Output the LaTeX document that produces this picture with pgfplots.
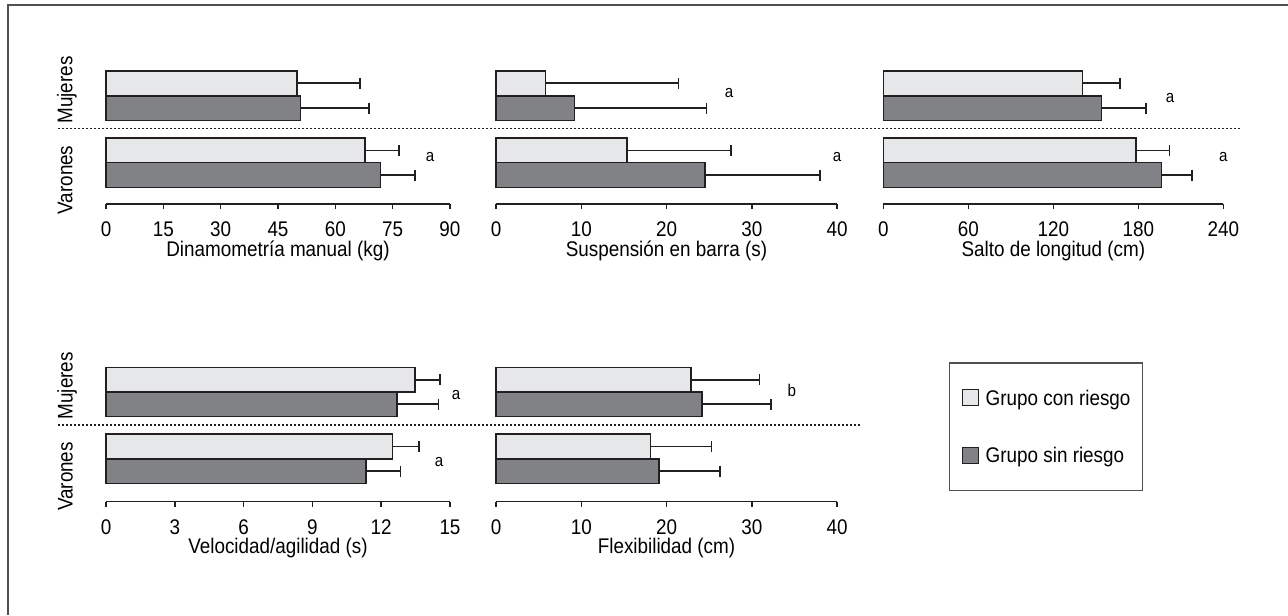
\documentclass[border=0pt]{standalone}
\usepackage{fontspec}
\setmainfont{Liberation Sans}[FakeStretch=0.89]
\usepackage{pgfplots}
\pgfplotsset{compat=1.18}
\definecolor{lightbar}{HTML}{E6E7E8}
\definecolor{darkbar}{HTML}{808285}
\definecolor{edge}{HTML}{231F20}
\definecolor{framec}{HTML}{505050}
\newcommand\lab{\fontsize{10.6pt}{12pt}\selectfont}

\tikzset{
 sig/.style={font=\fontsize{8.5pt}{10pt}\selectfont, anchor=center},
 grp/.style={rotate=90, anchor=base, font=\lab},
 light/.style={fill=lightbar, draw=edge, line width=0.8pt},
 dark/.style={fill=darkbar, draw=edge, line width=0.8pt},
}
\pgfplotsset{
 panel/.style={
   scale only axis, xbar, bar shift=0pt,
   axis y line=none, axis x line*=bottom,
   xmin=0, ymin=0, clip=false,
   anchor=south west,
   xtick align=outside, major tick length=2.5pt,
   tick style={edge, line width=0.75pt},
   axis line style={edge, line width=0.75pt},
   /pgf/number format/assume math mode=true,
   xticklabel style={font=\lab, yshift=-3pt},
   xlabel style={font=\lab, at={(axis description cs:0.5,0)}, anchor=center, yshift=-23.5pt},
   error bars/x dir=plus, error bars/x explicit,
   error bars/error mark options={rotate=90, mark size=2.75pt, line width=0.8pt, draw=edge},
   error bars/error bar style={line width=0.85pt, draw=edge},
 },
 toprow/.style={panel, ymax=133, height=66.5pt, bar width=24.8},
 botrow/.style={panel, ymax=134.2, height=67.1pt, bar width=24.6},
}

\begin{document}
\begin{tikzpicture}
\path[use as bounding box] (0pt,0pt) rectangle (644pt,-307.5pt);
\draw[framec, line width=1pt] (3.75pt,-307.5pt) -- (3.75pt,-2.75pt) -- (644pt,-2.75pt);

% ---------- top row ----------
\begin{axis}[toprow, at={(53pt,-102pt)}, width=172pt, xmax=90, xtick={0,15,...,90},
  xlabel={Dinamometría manual (kg)}]
\addplot[light] coordinates {(50,120.7) +- (16.4,0) (67.8,53.5) +- (8.9,0)};
\addplot[dark] coordinates {(50.9,95.8) +- (17.9,0) (71.8,29) +- (9.0,0)};
\node[sig] at (axis cs:84.8,47.3) {a};
\node[grp] at (axis cs:-8.77,114) {Mujeres};
\node[grp] at (axis cs:-8.77,24) {Varones};
\end{axis}

\begin{axis}[toprow, at={(248pt,-102pt)}, width=170.5pt, xmax=40, xtick={0,10,...,40},
  xlabel={Suspensión en barra (s)}]
\addplot[light] coordinates {(5.8,120.7) +- (15.6,0) (15.4,53.5) +- (12.2,0)};
\addplot[dark] coordinates {(9.2,95.8) +- (15.5,0) (24.5,29) +- (13.5,0)};
\node[sig] at (axis cs:27.35,111.3) {a};
\node[sig] at (axis cs:40,47.3) {a};
\end{axis}

\begin{axis}[toprow, at={(441.65pt,-102pt)}, width=170pt, xmax=240, xtick={0,60,...,240},
  xlabel={Salto de longitud (cm)}]
\addplot[light] coordinates {(140.5,120.7) +- (26.5,0) (178.4,53.5) +- (23.5,0)};
\addplot[dark] coordinates {(153.9,95.8) +- (31.5,0) (196.5,29) +- (21.2,0)};
\node[sig] at (axis cs:202.4,105.7) {a};
\node[sig] at (axis cs:240,47.3) {a};
\end{axis}

% ---------- bottom row ----------
\begin{axis}[botrow, at={(53pt,-250.75pt)}, width=172pt, xmax=15, xtick={0,3,...,15},
  xlabel={Velocidad/agilidad (s)}]
\addplot[light] coordinates {(13.47,121.8) +- (1.1,0) (12.5,55) +- (1.16,0)};
\addplot[dark] coordinates {(12.68,97.2) +- (1.81,0) (11.34,30.5) +- (1.51,0)};
\node[sig] at (axis cs:15.26,106.5) {a};
\node[sig] at (axis cs:14.52,39.8) {a};
\node[grp] at (axis cs:-1.46,115.8) {Mujeres};
\node[grp] at (axis cs:-1.46,25) {Varones};
\end{axis}

\begin{axis}[botrow, at={(248pt,-250.75pt)}, width=170.5pt, xmax=40, xtick={0,10,...,40},
  xlabel={Flexibilidad (cm)},
  legend style={at={(1.3284,1.0373)}, anchor=north west, draw=framec, line width=0.75pt,
    inner xsep=6pt, inner ysep=13.2pt, row sep=20.3pt, font=\lab,
    nodes={inner sep=0pt, text height=7.4pt, text depth=0pt},
    /tikz/every odd column/.append style={column sep=3.5pt}},
  legend cell align=left,
  legend image code/.code={\draw[#1, line width=0.5pt] (0pt,-4pt) rectangle (8pt,4pt);}]
\addplot[light] coordinates {(22.9,121.8) +- (8.0,0) (18.1,55) +- (7.2,0)};
\addlegendentry{Grupo con riesgo}
\addplot[dark] coordinates {(24.15,97.2) +- (8.1,0) (19.1,30.5) +- (7.2,0)};
\addlegendentry{Grupo sin riesgo}
\node[sig] at (axis cs:34.7,111.5) {b};
\end{axis}

% group separators
\draw[edge, line width=0.7pt, dash pattern=on 1pt off 1pt] (29pt,-64.35pt) -- (620pt,-64.35pt);
\draw[edge, line width=0.7pt, dash pattern=on 1pt off 1pt] (29pt,-212.5pt) -- (431pt,-212.5pt);
\end{tikzpicture}
\end{document}
